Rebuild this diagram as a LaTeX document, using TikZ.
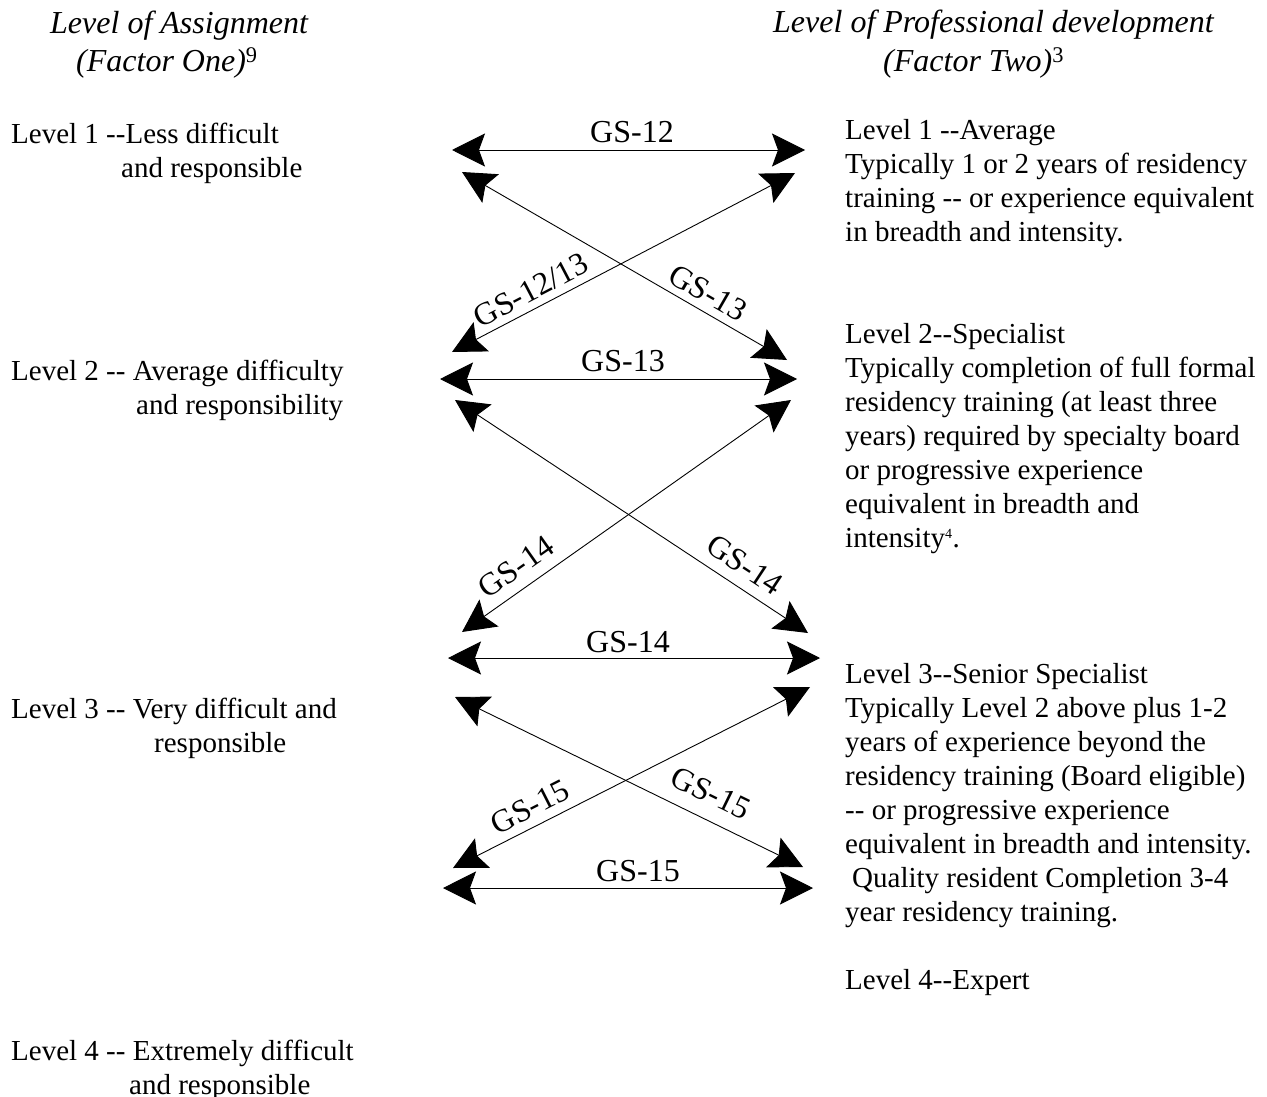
\documentclass[tikz,border=0pt]{standalone}
\usepackage{fontspec}
\setmainfont{Liberation Serif}[Ligatures=TeXOff]
\usepackage{tikz}
\usetikzlibrary{arrows.meta}

\begin{document}
\begin{tikzpicture}[x=1pt,y=-1pt,
  body/.style={inner sep=0pt,align=left,anchor=north west,font=\fontsize{29}{34}\selectfont},
  head/.style={inner sep=0pt,anchor=base west,font=\fontsize{32}{37}\selectfont\itshape},
  gs/.style={inner sep=0pt,font=\fontsize{32}{37}\selectfont},
  gsarrow/.style={line width=0.9pt,{Stealth[length=33pt,width=33pt,inset=6pt]}-{Stealth[length=33pt,width=33pt,inset=6pt]}}]
\useasboundingbox (0,0) rectangle (1267,1097);

% headings
\node[head] (asgA) at (50,34) {Level of Assignment};
\node[head] (asgB) at (76,72) {(Factor One)\textsuperscript{\upshape 9}};
\node[head] (devA) at (773,33) {Level of Professional development};
\node[head] (devB) at (883,72) {(Factor Two)\textsuperscript{\upshape 3}};

% factor one
\node[body] (one1) at (11,123) {Level 1 --Less difficult\\\hspace*{110pt}and responsible};
\node[body] (one2) at (11,360) {Level 2 -- Average difficulty\\\hspace*{125pt}and responsibility};
\node[body] (one3) at (11,698) {Level 3 -- Very difficult and\\\hspace*{143pt}responsible};
\node[body] (one4) at (11,1040) {Level 4 -- Extremely difficult\\\hspace*{118pt}and responsible};

% factor two
\node[body] (two1) at (845,119) {Level 1 --Average\\Typically 1 or 2 years of residency\\training -- or experience equivalent\\in breadth and intensity.};
\node[body] (two2) at (845,323) {Level 2--Specialist\\Typically completion of full formal\\residency training (at least three\\years) required by specialty board\\or progressive experience\\equivalent in breadth and\\intensity\textsuperscript{\fontsize{14}{14}\selectfont 4}.};
\node[body] (two3) at (845,663) {Level 3--Senior Specialist\\Typically Level 2 above plus 1-2\\years of experience beyond the\\residency training (Board eligible)\\-- or progressive experience\\equivalent in breadth and intensity.\\\hspace*{7pt}Quality resident Completion 3-4\\year residency training.};
\node[body] (two4) at (845,969) {Level 4--Expert};

% arrow ends
\coordinate (h12l) at (452,150);
\coordinate (h12r) at (805,150);
\coordinate (x1ul) at (462,172);
\coordinate (x1lr) at (787,360);
\coordinate (x1ll) at (452,352);
\coordinate (x1ur) at (795,173);
\coordinate (h13l) at (440,379);
\coordinate (h13r) at (797,379);
\coordinate (x2ul) at (455,400);
\coordinate (x2lr) at (808,633);
\coordinate (x2ll) at (462,632);
\coordinate (x2ur) at (791,400);
\coordinate (h14l) at (448,658);
\coordinate (h14r) at (820,658);
\coordinate (x3ul) at (455,697);
\coordinate (x3lr) at (803,867);
\coordinate (x3ll) at (453,868);
\coordinate (x3ur) at (810,687);
\coordinate (h15l) at (443,888);
\coordinate (h15r) at (813,888);

\draw[gsarrow] (h12l) -- (h12r);
\draw[gsarrow] (x1ul) -- (x1lr);
\draw[gsarrow] (x1ll) -- (x1ur);
\draw[gsarrow] (h13l) -- (h13r);
\draw[gsarrow] (x2ul) -- (x2lr);
\draw[gsarrow] (x2ll) -- (x2ur);
\draw[gsarrow] (h14l) -- (h14r);
\draw[gsarrow] (x3ul) -- (x3lr);
\draw[gsarrow] (x3ll) -- (x3ur);
\draw[gsarrow] (h15l) -- (h15r);

% grades
\node[gs] (gs12) at (632,132) {GS-12};
\node[gs,rotate=27.6] (gs1213) at (531,290) {GS-12/13};
\node[gs,rotate=-30] (gs13d) at (708,293) {GS-13};
\node[gs] (gs13) at (623,361) {GS-13};
\node[gs,rotate=35.2] (gs14l) at (516,567) {GS-14};
\node[gs,rotate=-33.4] (gs14r) at (745,565) {GS-14};
\node[gs] (gs14) at (628,642) {GS-14};
\node[gs,rotate=26.9] (gs15l) at (530,807) {GS-15};
\node[gs,rotate=-26] (gs15r) at (711,793) {GS-15};
\node[gs] (gs15) at (638,871) {GS-15};
\end{tikzpicture}
\end{document}
